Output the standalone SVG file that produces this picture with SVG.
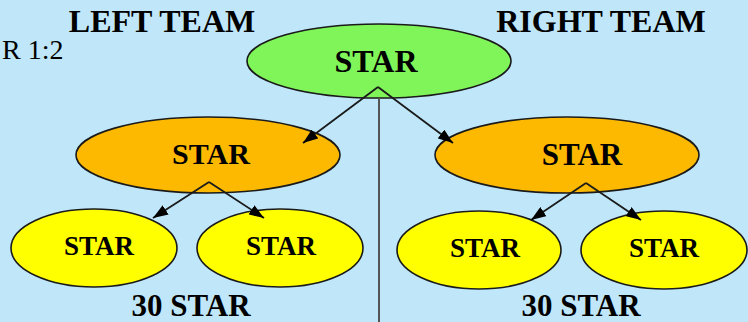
<svg xmlns="http://www.w3.org/2000/svg" width="748" height="322" viewBox="0 0 748 322">
<style>
.t{font-family:"Liberation Serif","Times New Roman",serif;font-weight:bold;fill:#000;text-anchor:middle}
.n{stroke:#1a1a1a;stroke-width:1.6}
.c{stroke:#1a1a1a;stroke-width:1.8;fill:none}
</style>
<defs>
<marker id="ah2" viewBox="0 0 15 11" refX="15" refY="5.5" markerWidth="15" markerHeight="11" markerUnits="userSpaceOnUse" orient="auto">
<path d="M0,0 L15,5.5 L0,11 z" fill="#000"/>
</marker>
</defs>
<rect width="748" height="322" fill="#bfe7f9"/>
<text class="t" x="162" y="32" font-size="32">LEFT TEAM</text>
<text class="t" x="601" y="32" font-size="32">RIGHT TEAM</text>
<text x="2" y="59" font-size="28" font-family="Liberation Serif, Times New Roman, serif" fill="#000">R 1:2</text>
<g id="root">
<ellipse class="n" cx="379" cy="61" rx="132" ry="37" fill="#80f55a"/>
<text class="t" x="376" y="72" font-size="32">STAR</text>
</g>
<g id="left">
<ellipse class="n" cx="208" cy="155" rx="132" ry="38" fill="#fdb900"/>
<text class="t" x="211" y="164" font-size="30">STAR</text>
</g>
<g id="right">
<ellipse class="n" cx="567" cy="155" rx="132" ry="38" fill="#fdb900"/>
<text class="t" x="582" y="165" font-size="31">STAR</text>
</g>
<g id="ll">
<ellipse class="n" cx="94" cy="248" rx="83" ry="39" fill="#ffff00"/>
<text class="t" x="99" y="255" font-size="27">STAR</text>
</g>
<g id="lr">
<ellipse class="n" cx="280" cy="248" rx="83" ry="39" fill="#ffff00"/>
<text class="t" x="281" y="255" font-size="27">STAR</text>
</g>
<g id="rl">
<ellipse class="n" cx="479" cy="250" rx="82" ry="39" fill="#ffff00"/>
<text class="t" x="485" y="257" font-size="27">STAR</text>
</g>
<g id="rr">
<ellipse class="n" cx="664" cy="250" rx="83" ry="39" fill="#ffff00"/>
<text class="t" x="664" y="257" font-size="27">STAR</text>
</g>
<text class="t" x="191" y="316" font-size="31">30 STAR</text>
<text class="t" x="581" y="316" font-size="31">30 STAR</text>
<g id="connectors">
<line x1="379" y1="98" x2="379" y2="322" stroke="#555" stroke-width="2"/>
<line class="c" x1="378" y1="87" x2="303" y2="143" marker-end="url(#ah2)"/>
<line class="c" x1="378" y1="87" x2="453" y2="143" marker-end="url(#ah2)"/>
<line class="c" x1="209" y1="182" x2="153" y2="218" marker-end="url(#ah2)"/>
<line class="c" x1="209" y1="182" x2="264" y2="218" marker-end="url(#ah2)"/>
<line class="c" x1="586" y1="183" x2="531" y2="220" marker-end="url(#ah2)"/>
<line class="c" x1="586" y1="183" x2="641" y2="220" marker-end="url(#ah2)"/>
</g>
</svg>
